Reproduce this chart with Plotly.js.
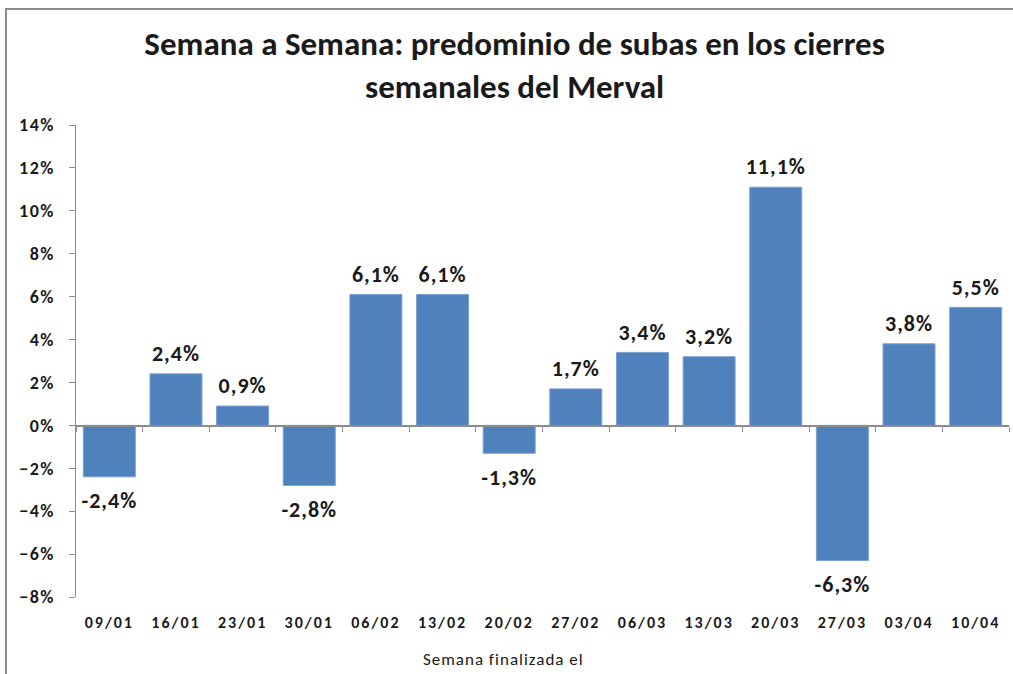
<!DOCTYPE html>
<html><head><meta charset="utf-8">
<script src="https://cdn.plot.ly/plotly-3.0.1.min.js"></script>
<style>
body{margin:0;padding:0;background:#fff;overflow:hidden}
#chart{position:absolute;left:0;top:0;width:1013px;height:674px}
#frame{position:absolute;left:5px;top:8px;width:1100px;height:800px;border-left:2px solid #8c8c8c;border-top:2px solid #8c8c8c;pointer-events:none}
#chart .ytick text{letter-spacing:1.5px}
#chart .x2tick text{letter-spacing:2px}
#chart .textpoint text{letter-spacing:1px}
#chart .annotation-text{letter-spacing:1px}
</style></head>
<body>
<div id="chart"></div>
<div id="frame"></div>
<script>
const categories = ["09/01","16/01","23/01","30/01","06/02","13/02","20/02","27/02","06/03","13/03","20/03","27/03","03/04","10/04"];
const values = [-2.4, 2.4, 0.9, -2.8, 6.1, 6.1, -1.3, 1.7, 3.4, 3.2, 11.1, -6.3, 3.8, 5.5];
const titleText = "Semana a Semana: predominio de subas en los cierres<br>semanales del Merval";
const xTitle = "Semana finalizada el";

const FONT = 'Carlito, "Liberation Sans Narrow", "Open Sans", sans-serif';
const labels = values.map(v => v.toFixed(1).replace('.', ',') + '%');
const labelPos = values.map(v => v < 0 ? 'bottom center' : 'top center');
const labelPad = values.map(v => v < 0 ? 22 : 10);
const idx = categories.map((c, i) => i);

const bars = {
  type: 'bar', x: categories, y: values,
  marker: {color: '#4F81BD', line: {color: '#7BA0D0', width: 1}},
  hoverinfo: 'skip'
};
const labelTrace = {
  type: 'scatter', mode: 'markers+text', x: categories, y: values,
  marker: {size: labelPad, opacity: 0}, text: labels, textposition: labelPos, cliponaxis: false,
  textfont: {family: FONT, size: 22, color: '#1a1a1a', weight: 'bold'},
  hoverinfo: 'skip'
};
const dummy = {type: 'scatter', x: idx, y: values, xaxis: 'x2', mode: 'markers', marker: {opacity: 0}, hoverinfo: 'skip', showlegend: false};

const yMin = -8, yMax = 14;
const layout = {
  width: 1013, height: 674,
  margin: {l: 76, r: 4, t: 125, b: 77},
  paper_bgcolor: '#fff', plot_bgcolor: '#fff',
  showlegend: false, bargap: 0.22,
  font: {family: FONT, color: '#1a1a1a'},
  title: {text: titleText, x: 0.508, xanchor: 'center', y: 1 - 55/674, yanchor: 'middle', yref: 'container',
          font: {family: FONT, size: 33, weight: 'bold', color: '#1a1a1a'}},
  xaxis: {type: 'category', anchor: 'free', position: (0 - yMin) / (yMax - yMin),
          range: [-0.5, categories.length - 0.5], autorange: false,
          showline: true, linecolor: '#8c8c8c', linewidth: 1.5,
          ticks: 'outside', tickson: 'boundaries', ticklen: 5, tickcolor: '#8c8c8c',
          showticklabels: false, showgrid: false, zeroline: false, fixedrange: true},
  xaxis2: {overlaying: 'x', anchor: 'y', type: 'linear', range: [-0.5, categories.length - 0.5], autorange: false,
           tickmode: 'array', tickvals: idx, ticktext: categories, ticks: '', showline: false,
           showgrid: false, zeroline: false, ticklabelstandoff: 14,
           tickfont: {family: FONT, size: 16, weight: 'bold', color: '#1a1a1a'}},
  yaxis: {range: [yMin, yMax], autorange: false, dtick: 2, ticksuffix: '%', showline: true, linecolor: '#8c8c8c', linewidth: 1.5,
          ticks: 'outside', ticklen: 6, tickcolor: '#8c8c8c', showgrid: false, zeroline: false,
          ticklabelstandoff: 10,
          tickfont: {family: FONT, size: 18, weight: 'bold', color: '#1a1a1a'}},
  annotations: [{text: xTitle, xref: 'paper', yref: 'paper', x: 0.4577, y: -62/472,
                 xanchor: 'center', yanchor: 'middle', showarrow: false,
                 font: {family: FONT, size: 17, color: '#1a1a1a'}}]
};
Plotly.newPlot('chart', [bars, labelTrace, dummy], layout, {displayModeBar: false, staticPlot: true});
</script>
</body></html>
